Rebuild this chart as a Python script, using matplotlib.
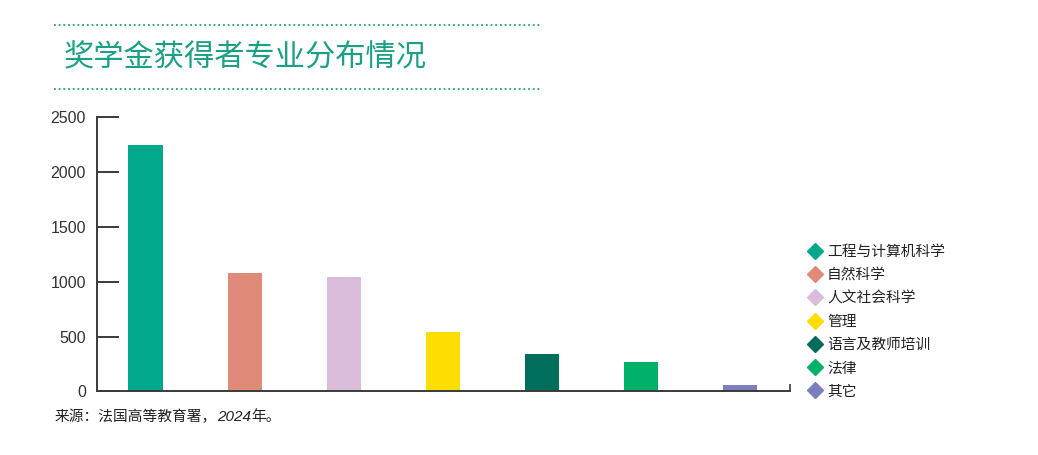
import matplotlib
matplotlib.use("Agg")
from matplotlib import pyplot as plt
from matplotlib.lines import Line2D

# data
fields = ["工程与计算机科学", "自然科学", "人文社会科学", "管理",
          "语言及教师培训", "法律", "其它"]
counts = [2240, 1080, 1045, 540, 345, 265, 60]
colors = ["#02a88c", "#e08b79", "#d9bcd9", "#fedd00",
          "#006e5a", "#00b16a", "#7b7fbd"]
yticks = [0, 500, 1000, 1500, 2000, 2500]

title = "奖学金获得者专业分布情况"
green = "#1ca085"
cjk = ["Noto Sans CJK SC", "DejaVu Sans"]

fig = plt.figure(figsize=(10.38, 4.55), dpi=100)
ax = fig.add_axes([0.0934, 0.1396, 0.6676, 0.6034])

x = range(len(counts))
ax.bar(x, counts, width=0.345, color=colors)
ax.set_xlim(-0.49, 6.5)
ax.set_ylim(0, 2500)

# axes styling
for s in ["top", "right"]:
    ax.spines[s].set_visible(False)
for s in ["left", "bottom"]:
    ax.spines[s].set_color("#3a3a3a")
    ax.spines[s].set_linewidth(1.4)
ax.set_yticks(yticks)
ax.set_yticklabels([str(v) for v in yticks], family="Liberation Sans",
                   fontsize=11.5, color="#333333")
ax.tick_params(axis="y", direction="in", length=16, width=1.4,
               color="#3a3a3a", pad=8)
# little end mark on the x axis
ax.set_xticks([6.5])
ax.set_xticklabels([""])
ax.tick_params(axis="x", direction="in", length=5, width=1.2,
               color="#3a3a3a")

# title and dotted rules
fig.text(0.061, 0.873, title, family=cjk, fontsize=21.8, color=green,
         va="center", ha="left")
for yy in [0.945, 0.804]:
    fig.add_artist(Line2D([0.052, 0.521], [yy, yy], color=green,
                          linestyle=(0, (1, 1.6)), linewidth=1.3))

# legend
handles = [Line2D([], [], marker="D", linestyle="none", markersize=8,
                  markerfacecolor=c, markeredgecolor=c) for c in colors]
leg = fig.legend(handles, fields, loc="center left",
                 bbox_to_anchor=(0.772, 0.293), frameon=False,
                 prop={"family": cjk, "size": 10.6}, handlelength=0.8,
                 handletextpad=0.45, labelspacing=0.63, borderpad=0)
for t in leg.get_texts():
    t.set_color("#222222")

# source line
t1 = fig.text(0.053, 0.083, "来源：法国高等教育署，", family=cjk,
              fontsize=10.6, color="#222222", va="center")
t2 = fig.text(0, 0, "2024", family="Liberation Sans", style="italic",
              fontsize=11, color="#222222", va="center")
fig.canvas.draw()
r = fig.canvas.get_renderer()
bb = t1.get_window_extent(r).transformed(fig.transFigure.inverted())
t2.set_position((bb.x1, 0.083))
bb2 = t2.get_window_extent(r).transformed(fig.transFigure.inverted())
fig.text(bb2.x1, 0.083, "年。", family=cjk, fontsize=10.6,
         color="#222222", va="center")

fig.savefig("out.png", dpi=100)
